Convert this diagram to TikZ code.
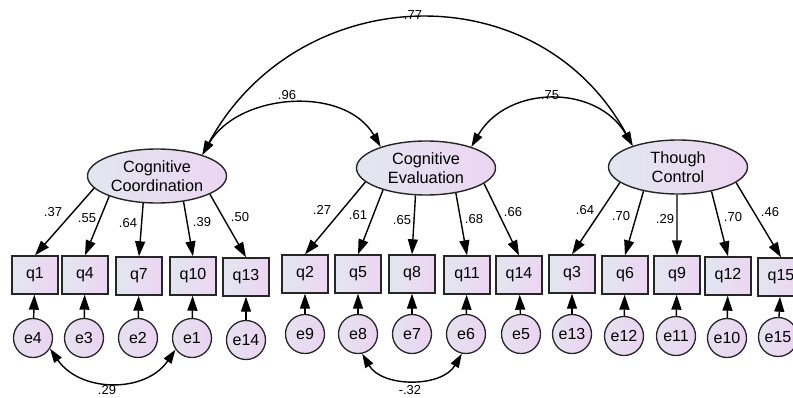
\documentclass[tikz,border=0pt]{standalone}
\usepackage{fontspec}
\setmainfont{Liberation Sans}
\usetikzlibrary{shapes.geometric,arrows.meta}
\definecolor{lata}{HTML}{E2E6F0}
\definecolor{latb}{HTML}{EDD5F2}
\definecolor{erra}{HTML}{E6E2F0}
\definecolor{errb}{HTML}{EBD3F1}
\definecolor{edge}{HTML}{262626}
\begin{document}
\begin{tikzpicture}[x=1pt,y=-1pt,
  latent/.style={ellipse, draw=edge, line width=1.4pt, left color=lata, right color=latb,
    minimum width=139pt, minimum height=54pt, inner sep=0pt, align=center,
    font=\fontsize{16.3}{18.5}\selectfont},
  obsbox/.style={rectangle, draw=edge, line width=1.4pt, left color=lata, right color=latb,
    minimum width=46pt, minimum height=38pt, inner sep=0pt, font=\fontsize{16}{18}\selectfont},
  errc/.style={circle, draw=edge, line width=1.3pt, left color=erra, right color=errb,
    minimum size=39pt, inner sep=0pt, font=\fontsize{16}{18}\selectfont},
  patharrow/.style={-{Triangle[length=15pt,width=10pt]}, line width=1.4pt},
  covarrow/.style={{Triangle[length=14pt,width=9pt]}-{Triangle[length=14pt,width=9pt]}, line width=1.4pt},
  lbl/.style={font=\fontsize{13}{15}\selectfont, inner sep=0pt}]
\useasboundingbox (0,0) rectangle (793,397);

% latent variables
\node[latent] (CC) at (157,176) {Cognitive\\Coordination};
\node[latent] (CE) at (426,168) {Cognitive\\Evaluation};
\node[latent] (TC) at (678,167) {Though\\Control};

% observed
\node[obsbox] (q1) at (35,275) {q1};
\node[obsbox] (q4) at (85,275) {q4};
\node[obsbox] (q7) at (139,276) {q7};
\node[obsbox] (q10) at (193,276) {q10};
\node[obsbox] (q13) at (246,277) {q13};
\node[obsbox] (q2) at (305,274) {q2};
\node[obsbox] (q5) at (358,274) {q5};
\node[obsbox] (q8) at (412,274) {q8};
\node[obsbox] (q11) at (467,275) {q11};
\node[obsbox] (q14) at (519,275) {q14};
\node[obsbox] (q3) at (572,274) {q3};
\node[obsbox] (q6) at (625,275) {q6};
\node[obsbox] (q9) at (677,275) {q9};
\node[obsbox] (q12) at (728,276) {q12};
\node[obsbox] (q15) at (781,277) {q15};

% errors
\node[errc] (e4) at (33,338) {e4};
\node[errc] (e3) at (84,338) {e3};
\node[errc] (e2) at (138,338) {e2};
\node[errc] (e1) at (192,338) {e1};
\node[errc] (e14) at (246,340) {e14};
\node[errc] (e9) at (305,334) {e9};
\node[errc] (e8) at (358,334) {e8};
\node[errc] (e7) at (412,334) {e7};
\node[errc] (e6) at (466,334) {e6};
\node[errc] (e5) at (521,334) {e5};
\node[errc] (e13) at (572,334) {e13};
\node[errc] (e12) at (624,336) {e12};
\node[errc] (e11) at (676,336) {e11};
\node[errc] (e10) at (727,338) {e10};
\node[errc] (e15) at (778,337) {e15};

% loadings
\draw[patharrow] (CC.191) -- (q1.north);
\draw[patharrow] (CC.203) -- (q4.north);
\draw[patharrow] (CC.243) -- (q7.north);
\draw[patharrow] (CC.316) -- (q10.north);
\draw[patharrow] (CC.341) -- (q13.north);
\draw[patharrow] (CE.193) -- (q2.north);
\draw[patharrow] (CE.207) -- (q5.north);
\draw[patharrow] (CE.249) -- (q8.north);
\draw[patharrow] (CE.320) -- (q11.north);
\draw[patharrow] (CE.345) -- (q14.north);
\draw[patharrow] (TC.195) -- (q3.north);
\draw[patharrow] (TC.215) -- (q6.north);
\draw[patharrow] (TC.268) -- (q9.north);
\draw[patharrow] (TC.324) -- (q12.north);
\draw[patharrow] (TC.345) -- (q15.north);

% error paths
\foreach \e/\q in {e4/q1,e3/q4,e2/q7,e1/q10,e14/q13,e9/q2,e8/q5,e7/q8,e6/q11,e5/q14,e13/q3,e12/q6,e11/q9,e10/q12,e15/q15}
  \draw[patharrow] (\e) -- (\q);

% loading labels
\node[lbl] (l1) at (53,212) {.37};
\node[lbl] (l4) at (87,218) {.55};
\node[lbl] (l7) at (128,223) {.64};
\node[lbl] (l10) at (202,222) {.39};
\node[lbl] (l13) at (240,217) {.50};
\node[lbl] (l2) at (322,210) {.27};
\node[lbl] (l5) at (358,215) {.61};
\node[lbl] (l8) at (402,220) {.65};
\node[lbl] (l11) at (474,219) {.68};
\node[lbl] (l14) at (513,212) {.66};
\node[lbl] (l3) at (585,210) {.64};
\node[lbl] (l6) at (621,216) {.70};
\node[lbl] (l9) at (665,219) {.29};
\node[lbl] (l12) at (733,217) {.70};
\node[lbl] (l15) at (770,212) {.46};

% covariances between latents
\draw[covarrow] (CC.25) .. controls +(95,-175) and +(-95,-175) .. (TC.155);
\draw[covarrow] (CC.25) .. controls +(36,-62) and +(-36,-62) .. (CE.155);
\draw[covarrow] (CE.25) .. controls +(36,-62) and +(-36,-62) .. (TC.155);
\node[lbl] (c77) at (413,15) {.77};
\node[lbl] (c96) at (287,95) {.96};
\node[lbl] (c75) at (550,95) {.75};

% error covariances
\draw[covarrow] (e4.-32) .. controls +(30,44) and +(-30,44) .. (e1.-145);
\draw[covarrow] (e8.-78) .. controls +(20,34) and +(-20,34) .. (e6.-102);
\node[lbl] (c29) at (107,390) {.29};
\node[lbl] (c32) at (410,390) {-.32};
\end{tikzpicture}
\end{document}
